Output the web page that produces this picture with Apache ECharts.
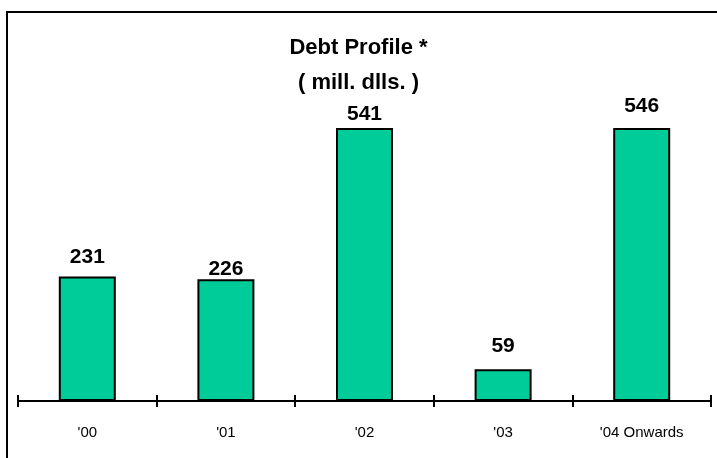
<!DOCTYPE html>
<html>
<head>
<meta charset="utf-8">
<script src="https://cdn.jsdelivr.net/npm/echarts@6/dist/echarts.min.js"></script>
<style>
html,body{margin:0;padding:0;background:#fff;}
#chart{width:717px;height:458px;}
</style>
</head>
<body>
<div id="chart"></div>
<script>
const titleLines = ['Debt Profile *', '( mill. dlls. )'];
const categories = ["'00", "'01", "'02", "'03", "'04 Onwards"];
const debtValues = [231, 226, 541, 59, 546];
const labelGaps = [9, 0, 3, 13, 11];

const FONT = 'Arial, "Liberation Sans", sans-serif';
const chart = echarts.init(document.getElementById('chart'));

const data = debtValues.map((v, i) => ({
  value: v,
  label: { distance: labelGaps[i] }
}));

chart.setOption({
  animation: false,
  backgroundColor: '#ffffff',
  title: {
    text: titleLines.join('\n'),
    left: 'center',
    top: 25,
    textStyle: { fontFamily: FONT, fontWeight: 'bold', fontSize: 22, lineHeight: 35, color: '#000' }
  },
  graphic: [{
    type: 'rect',
    shape: { x: 7, y: 12, width: 800, height: 600 },
    style: { fill: 'none', stroke: '#000', lineWidth: 2 },
    z: 100
  }],
  grid: { left: 18, right: 6, top: 129, bottom: 57 },
  xAxis: [{
    type: 'category',
    data: categories,
    axisLine: { show: true, lineStyle: { color: '#000', width: 2 } },
    axisTick: { show: true, length: 6, lineStyle: { color: '#000', width: 2 } },
    axisLabel: { color: '#000', fontFamily: FONT, fontSize: 15, margin: 24 }
  }, {
    type: 'category',
    data: categories,
    position: 'bottom',
    axisLine: { show: false },
    axisTick: { show: true, inside: true, length: 6, lineStyle: { color: '#000', width: 2 } },
    axisLabel: { show: false }
  }],
  yAxis: {
    type: 'value',
    min: 0,
    max: 505,
    show: false,
    splitLine: { show: false }
  },
  series: [{
    type: 'bar',
    data: data,
    barWidth: 57,
    clip: true,
    itemStyle: { color: '#00CC99', borderColor: '#000', borderWidth: 2 },
    label: {
      show: true,
      position: 'top',
      color: '#000',
      fontFamily: FONT,
      fontWeight: 'bold',
      fontSize: 21
    }
  }]
});
</script>
</body>
</html>
